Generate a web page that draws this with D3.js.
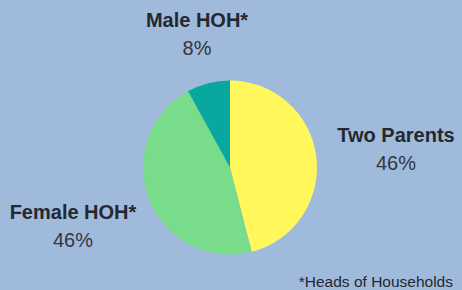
<!DOCTYPE html>
<html>
<head>
<meta charset="utf-8">
<script src="https://cdn.jsdelivr.net/npm/d3@7"></script>
<style>
  html, body { margin: 0; padding: 0; background: #a0badb; }
  svg { display: block; }
</style>
</head>
<body>
<script>
// Datos del gráfico
const categorias = ["Two Parents", "Female HOH*", "Male HOH*"];
const valores = [46, 46, 8];
const colores = ["#fff75c", "#78dc8a", "#08a7a0"];
const nota = "*Heads of Households";

const WIDTH = 462;
const HEIGHT = 290;
const CENTRO = { x: 230, y: 167.5 };
const RADIO = 87;

// Posición de cada etiqueta (línea base del nombre)
const POS_ETIQUETAS = [
  { x: 396, y: 142 },
  { x: 73, y: 219 },
  { x: 197, y: 27 },
];

const svg = d3.select("body")
  .append("svg")
  .attr("width", WIDTH)
  .attr("height", HEIGHT);

svg.append("rect")
  .attr("width", WIDTH)
  .attr("height", HEIGHT)
  .attr("fill", "#a0badb");

const datos = categorias.map((c, i) => ({ categoria: c, valor: valores[i], color: colores[i] }));

const pie = d3.pie().sort(null).value((d) => d.valor);
const arco = d3.arc().innerRadius(0).outerRadius(RADIO);

const contenedor = svg.append("g")
  .attr("transform", `translate(${CENTRO.x}, ${CENTRO.y})`);

contenedor.selectAll("path")
  .data(pie(datos))
  .join("path")
  .attr("d", arco)
  .attr("fill", (d) => d.data.color);

// Etiquetas
const etiquetas = svg.selectAll("g.etiqueta")
  .data(datos)
  .join("g")
  .attr("class", "etiqueta")
  .attr("transform", (d, i) => `translate(${POS_ETIQUETAS[i].x}, ${POS_ETIQUETAS[i].y})`);

etiquetas.append("text")
  .attr("text-anchor", "middle")
  .attr("font-family", "Liberation Sans, Arial, sans-serif")
  .attr("font-weight", "bold")
  .attr("font-size", 20)
  .attr("fill", "#25282e")
  .text((d) => d.categoria);

etiquetas.append("text")
  .attr("text-anchor", "middle")
  .attr("y", 28)
  .attr("font-family", "Liberation Sans, Arial, sans-serif")
  .attr("font-size", 20)
  .attr("fill", "#33363c")
  .text((d) => d.valor + "%");

svg.append("text")
  .attr("x", 453)
  .attr("y", 287)
  .attr("text-anchor", "end")
  .attr("font-family", "Liberation Sans, Arial, sans-serif")
  .attr("font-size", 15.5)
  .attr("fill", "#25282e")
  .text(nota);
</script>
</body>
</html>
